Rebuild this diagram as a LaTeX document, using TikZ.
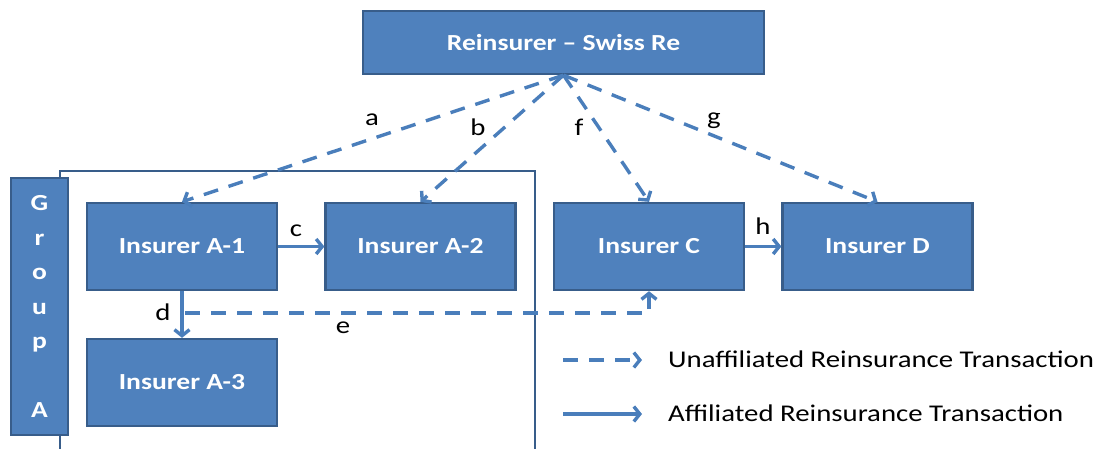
\documentclass[tikz,border=0pt]{standalone}
\usepackage{fontspec}
\setmainfont{Carlito}[FakeStretch=1.2]
\usetikzlibrary{arrows.meta,calc}
\definecolor{boxfill}{HTML}{4F81BD}
\definecolor{boxborder}{HTML}{385D8A}
\definecolor{linecol}{HTML}{4A7EBB}
\begin{document}
\begin{tikzpicture}[x=1pt,y=-1pt,
  box/.style={draw=boxborder, line width=2.3pt, fill=boxfill, text=white,
    font=\bfseries\fontsize{23}{26}\selectfont, minimum width=190pt, minimum height=87pt, inner sep=0pt},
  conn/.style={draw=linecol, line width=3.4pt, -{Straight Barb[length=6pt,width=15pt]}},
  dconn/.style={conn, dash pattern=on 15pt off 11pt},
  lbl/.style={font=\fontsize{24}{26}\selectfont, inner sep=0pt},
  legtext/.style={font=\fontsize{24}{26}\selectfont, anchor=west, inner sep=0pt}]
\useasboundingbox (0,0) rectangle (1096,448);
% container of group A
\draw[boxborder, line width=2pt] (59.5,480) -- (59.5,171) -- (535,171) -- (535,480);
% boxes
\node[box, minimum width=401pt, minimum height=63pt] (rein) at (563.5,42.5) {Reinsurer -- Swiss Re};
\node[box] (A1) at (182,246.5) {Insurer A-1};
\node[box] (A2) at (420.5,246.5) {Insurer A-2};
\node[box] (C) at (649,246.5) {Insurer C};
\node[box] (D) at (877.5,246.5) {Insurer D};
\node[box] (A3) at (182,382.5) {Insurer A-3};
\node[box, minimum width=57pt, minimum height=257pt, align=center,
  font=\bfseries\fontsize{23}{34.5}\selectfont] (grp) at (39.5,306.5)
  {G\\r\\o\\u\\p\\\mbox{}\\A};
% unaffiliated transactions
\draw[dconn] (rein.south) -- (A1.north);
\draw[dconn] (rein.south) -- (A2.north);
\draw[dconn] (rein.south) -- (C.north);
\draw[dconn] (rein.south) -- (D.north);
\coordinate (e0) at (185,313);
\draw[dconn] (e0) -- (e0 -| C.south) -- (C.south);
% affiliated transactions
\draw[conn] (A1.east) -- (A2.west);
\draw[conn] (C.east) -- (D.west);
\draw[conn] (A1.south) -- (A3.north);
% labels
\node[lbl] (la) at (372,120) {a};
\node[lbl] (lb) at (478,127) {b};
\node[lbl] (lf) at (579,127) {f};
\node[lbl] (lg) at (714,121) {g};
\node[lbl] (lc) at (296,231) {c};
\node[lbl] (lh) at (763,226) {h};
\node[lbl] (ld) at (163,312) {d};
\node[lbl] (le) at (343,328) {e};
% legend
\coordinate (u0) at (563,360);
\coordinate (u1) at (642,360);
\coordinate (s0) at (563,414);
\coordinate (s1) at (642,414);
\draw[dconn] (u0) -- (u1);
\draw[conn] (s0) -- (s1);
\node[legtext] (ut) at (668,359) {Unaffiliated Reinsurance Transaction};
\node[legtext] (st) at (668,413) {Affiliated Reinsurance Transaction};
\end{tikzpicture}
\end{document}
